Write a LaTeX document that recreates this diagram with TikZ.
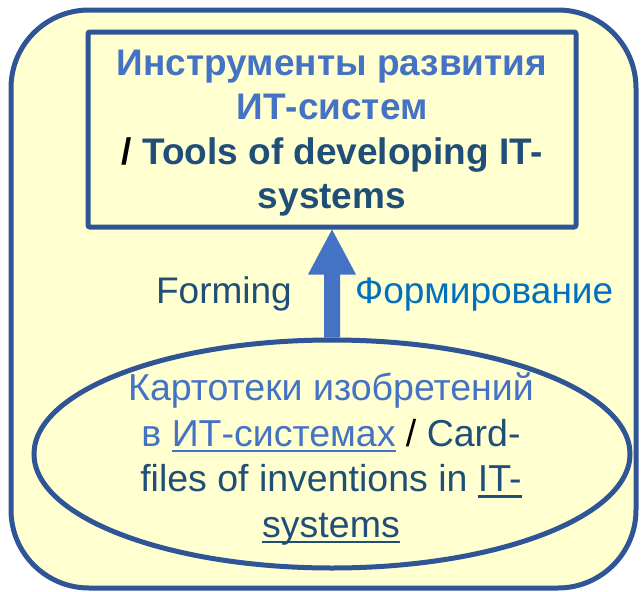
\documentclass[tikz,border=0pt]{standalone}
\usepackage{fontspec}
\setmainfont{Liberation Sans}
\usetikzlibrary{calc,shapes.geometric}
\definecolor{fillc}{HTML}{FFFFD0}
\definecolor{strokec}{HTML}{2F5597}
\definecolor{lightblue}{HTML}{4472C4}
\definecolor{darkblue}{HTML}{1F4E79}
\definecolor{formc}{HTML}{0070C0}
\newcommand\ulx[1]{\setbox0=\hbox{#1}\rlap{\rule[-0.16em]{\wd0}{0.07em}}\box0}
\tikzset{
  frame/.style={draw=strokec, line width=5pt, fill=fillc},
  titletext/.style={align=center, inner sep=0pt, font=\bfseries\fontsize{37}{44.5}\selectfont},
  cardtext/.style={align=center, inner sep=0pt, font=\fontsize{37.5}{45.5}\selectfont},
  sidetext/.style={inner sep=0pt, font=\fontsize{37}{44}\selectfont},
  bigarrow/.style={fill=lightblue}
}
\begin{document}
\begin{tikzpicture}[x=1pt,y=-1pt]
\useasboundingbox (0,0) rectangle (641,592);
\draw[frame, rounded corners=78pt] (11,10) rectangle (636,588);
\node[frame, rectangle, rounded corners=2pt, minimum width=488pt, minimum height=195pt, inner sep=0pt] (tools) at (332,129.5) {};
\node[frame, ellipse, minimum width=596pt, minimum height=228pt, inner sep=0pt] (cards) at (332,454) {};
\node[titletext] (toolstext) at (332,133) {\textcolor{lightblue}{Инструменты развития}\\\textcolor{lightblue}{ИТ-систем}\\\textcolor{black}{/} \textcolor{darkblue}{Tools of developing IT-}\\\textcolor{darkblue}{systems}};
\node[cardtext] (cardstext) at (331,459) {\textcolor{lightblue}{Картотеки изобретений}\\\textcolor{lightblue}{в \ulx{ИТ-системах}} \textcolor{black}{/} \textcolor{darkblue}{Card-}\\\textcolor{darkblue}{files of inventions in \ulx{IT-}}\\\textcolor{darkblue}{\ulx{systems}}};
\fill[bigarrow] ($(cards.north)+(-8,0)$) -- ($(tools.south)+(-8,45)$) -- ($(tools.south)+(-24,45)$) -- (tools.south) -- ($(tools.south)+(24,45)$) -- ($(tools.south)+(8,45)$) -- ($(cards.north)+(8,0)$) -- cycle;
\node[sidetext, anchor=base east, text=darkblue] (forming) at (292,303) {Forming};
\node[sidetext, anchor=base west, text=formc] (formir) at (355,303) {Формирование};
\end{tikzpicture}
\end{document}
